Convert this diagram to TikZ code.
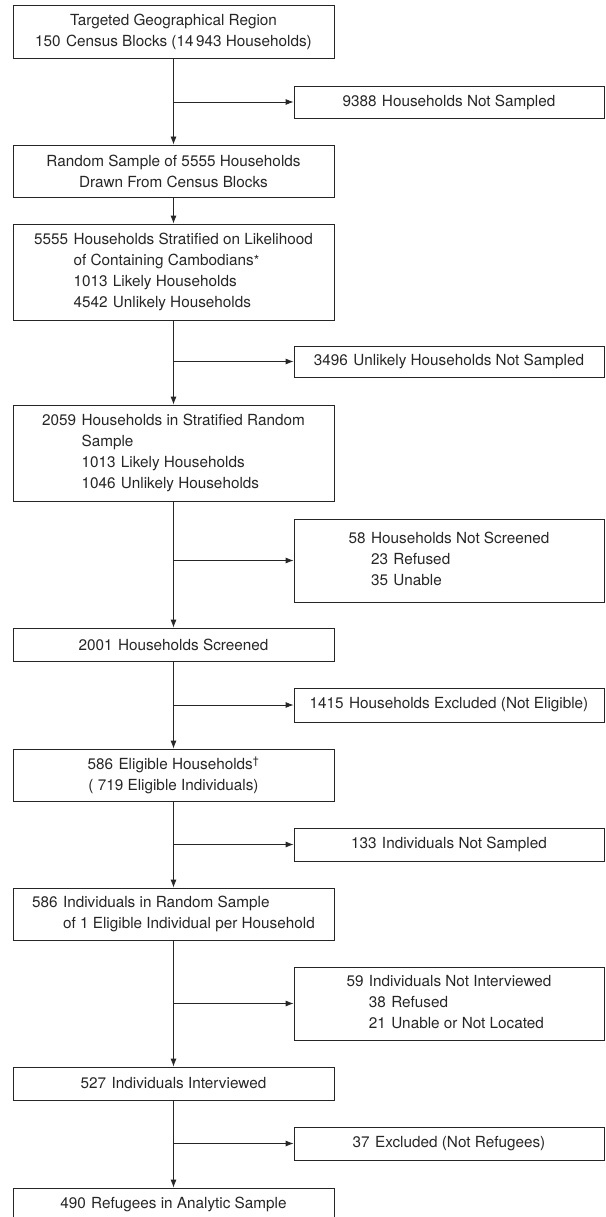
\documentclass[tikz,border=0pt]{standalone}
\usepackage{fontspec}
\setmainfont{TeX Gyre Heros}
\usetikzlibrary{arrows.meta}
\definecolor{ink}{RGB}{38,38,38}
\newcommand\gp{\hspace{0.35em}}
\newcommand\myast{\raisebox{0.5pt}{\fontsize{14}{14}\selectfont *}}
\begin{document}
\begin{tikzpicture}[x=1pt,y=-1pt,
  box/.style={draw=ink, line width=0.8pt, inner sep=0pt, text=ink,
    font=\fontsize{15.3}{21}\selectfont, align=center},
  lbox/.style={box, minimum width=321pt},
  rbox/.style={box, minimum width=310pt},
  arr/.style={draw=ink, line width=0.8pt, -{Latex[length=8pt,width=6pt]}}]
\useasboundingbox (0,0) rectangle (605,1217);

% main column
\node[lbox, minimum height=53pt] (b1) at (173.5,31.5)
  {Targeted Geographical Region\\150\gp Census Blocks (14\,943 Households)};
\node[lbox, minimum height=52pt] (b2) at (173.5,171)
  {Random Sample of 5555 Households\\Drawn From Census Blocks};
\node[lbox, minimum height=96pt] (b3) at (173.5,272)
  {\begin{tabular}{@{}l@{\gp}l@{}}
   5555 & Households Stratified on Likelihood\\
        & of Containing Cambodians\myast\\
        & 1013\gp Likely Households\\
        & 4542\gp Unlikely Households
   \end{tabular}};
\node[lbox, minimum height=96pt] (b4) at (173.5,453)
  {\begin{tabular}{@{}l@{\gp}l@{}}
   2059 & Households in Stratified Random\\
        & Sample\\
        & 1013\gp Likely Households\\
        & 1046\gp Unlikely Households
   \end{tabular}};
\node[lbox, minimum height=33pt] (b5) at (173.5,644.5)
  {2001\gp Households Screened};
\node[lbox, minimum height=52pt] (b6) at (173.5,775)
  {586\gp Eligible Households\textsuperscript{\textdagger}\\( 719 Eligible Individuals)};
\node[lbox, minimum height=52pt] (b7) at (173.5,914)
  {\begin{tabular}{@{}l@{\gp}l@{}}
   586 & Individuals in Random Sample\\
       & of 1 Eligible Individual per Household
   \end{tabular}};
\node[lbox, minimum height=33pt] (b8) at (173.5,1083.5)
  {527\gp Individuals Interviewed};
\node[lbox, minimum height=33pt] (b9) at (173.5,1204.5)
  {490\gp Refugees in Analytic Sample};

% side boxes
\node[rbox, minimum height=32pt] (r1) at (449,102)
  {9388\gp Households Not Sampled};
\node[rbox, minimum height=31pt] (r2) at (449,361.5)
  {3496\gp Unlikely Households Not Sampled};
\node[rbox, minimum height=83pt] (r3) at (449,560.5)
  {\begin{tabular}{@{}l@{\gp}l@{}}
   58 & Households Not Screened\\
      & 23\gp Refused\\
      & 35\gp Unable
   \end{tabular}};
\node[rbox, minimum height=34pt] (r4) at (449,705)
  {1415\gp Households Excluded (Not Eligible)};
\node[rbox, minimum height=33pt] (r5) at (449,844.5)
  {133\gp Individuals Not Sampled};
\node[rbox, minimum height=73pt] (r6) at (449,1003.5)
  {\begin{tabular}{@{}l@{\gp}l@{}}
   59 & Individuals Not Interviewed\\
      & 38\gp Refused\\
      & 21\gp Unable or Not Located
   \end{tabular}};
\node[rbox, minimum height=33pt] (r7) at (449,1143.5)
  {37\gp Excluded (Not Refugees)};

% vertical flow
\draw[arr] (b1.south) -- (b2.north);
\draw[arr] (b2.south) -- (b3.north);
\draw[arr] (b3.south) -- (b4.north);
\draw[arr] (b4.south) -- (b5.north);
\draw[arr] (b5.south) -- (b6.north);
\draw[arr] (b6.south) -- (b7.north);
\draw[arr] (b7.south) -- (b8.north);
\draw[arr] (b8.south) -- (b9.north);

% branches
\draw[arr] (b1.south |- r1.west) -- (r1.west);
\draw[arr] (b3.south |- r2.west) -- (r2.west);
\draw[arr] (b4.south |- r3.west) -- (r3.west);
\draw[arr] (b5.south |- r4.west) -- (r4.west);
\draw[arr] (b6.south |- r5.west) -- (r5.west);
\draw[arr] (b7.south |- r6.west) -- (r6.west);
\draw[arr] (b8.south |- r7.west) -- (r7.west);
\end{tikzpicture}
\end{document}
